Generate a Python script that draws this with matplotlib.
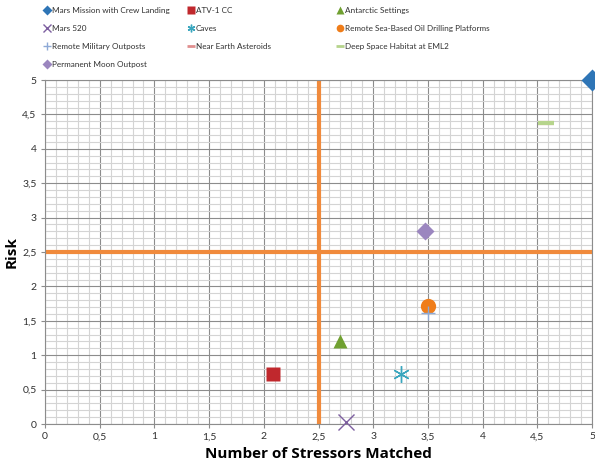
import numpy as np
import matplotlib.pyplot as plt
from matplotlib.ticker import MultipleLocator, FuncFormatter
from matplotlib.lines import Line2D

# data
names = ['Mars Mission with Crew Landing', 'ATV-1 CC', 'Antarctic Settings',
         'Mars 520', 'Caves', 'Remote Sea-Based Oil Drilling Platforms',
         'Remote Military Outposts', 'Near Earth Asteroids', 'Deep Space Habitat at EML2',
         'Permanent Moon Outpost']
stressors = [5.0, 2.08, 2.7, 2.75, 3.25, 3.5, 3.5, 4.58, 4.58, 3.47]
risk = [5.0, 0.72, 1.2, 0.03, 0.73, 1.72, 1.62, 4.38, 4.38, 2.8]

markers = ['D', 's', '^', 'x', (6, 2, 0), 'o', '+', '_', '_', 'D']
colors = ['#2e75b6', '#c0282d', '#70a031', '#7d5fa0', '#3aa6be', '#ef7d1a',
          '#8ea9d6', '#e08f8f', '#b6d48c', '#9b86bf']
sizes = [11, 10, 10, 12, 12, 11, 10, 12, 12, 9]
line_marks = ('x', '+', '_', (6, 2, 0))

plt.rcParams['font.family'] = ['Lato', 'DejaVu Sans']

fig = plt.figure(figsize=(5.95, 4.69), dpi=100)
ax = fig.add_axes([45 / 595, 1 - 424 / 469, 547 / 595, 344 / 469])

ax.set_xlim(0, 5)
ax.set_ylim(0, 5)
ax.xaxis.set_major_locator(MultipleLocator(0.5))
ax.yaxis.set_major_locator(MultipleLocator(0.5))
ax.xaxis.set_minor_locator(MultipleLocator(0.1))
ax.yaxis.set_minor_locator(MultipleLocator(0.1))
ax.grid(which='minor', color='#d4d4d4', linewidth=0.8)
ax.grid(which='major', color='#8c8c8c', linewidth=0.8)
ax.set_axisbelow(True)

fmt = FuncFormatter(lambda v, p: ('%g' % v).replace('.', ','))
ax.xaxis.set_major_formatter(fmt)
ax.yaxis.set_major_formatter(fmt)
ax.tick_params(which='major', labelsize=7.5, length=3, color='#8c8c8c', pad=3,
               labelcolor='#303030')
ax.tick_params(which='minor', length=0)
for s in ax.spines.values():
    s.set_color('#8c8c8c')
    s.set_linewidth(0.8)

ax.axvline(2.5, color='#f08a3c', linewidth=3, zorder=2)
ax.axhline(2.5, color='#f08a3c', linewidth=3, zorder=2)

handles = []
for i in range(len(names)):
    is_line = markers[i] in line_marks
    mew = 1.0 if is_line else 0.5
    if markers[i] == '_':
        mew = 3
    mec = colors[i] if is_line else 'none'
    ax.plot(stressors[i], risk[i], linestyle='none', marker=markers[i], ms=sizes[i],
            color=colors[i], mec=mec, mew=mew, zorder=3, clip_on=False)
    handles.append(Line2D([], [], linestyle='none', marker=markers[i], ms=5.5,
                          color=colors[i], mec=mec, mew=1 if mew < 3 else 2))

ax.set_xlabel('Number of Stressors Matched', fontsize=11, fontweight='bold',
              family=['Open Sans', 'DejaVu Sans'])
ax.set_ylabel('Risk', fontsize=11, fontweight='bold',
              family=['Open Sans', 'DejaVu Sans'])
ax.xaxis.set_label_coords(0.5, -0.068)
ax.yaxis.set_label_coords(-0.048, 0.5)

# legend in three columns placed like the reference
cols = [[0, 3, 6, 9], [1, 4, 7], [2, 5, 8]]
xpos = [43 / 595, 187 / 595, 336 / 595]
for c, x in zip(cols, xpos):
    fig.legend([handles[i] for i in c], [names[i] for i in c], loc='upper left',
               bbox_to_anchor=(x, 1 - 7 / 469), frameon=False, fontsize=5.9,
               handlelength=0.9, handletextpad=0.2, labelspacing=1.33,
               borderaxespad=0, borderpad=0, labelcolor='#303030')

fig.savefig('out.png', dpi=100)
